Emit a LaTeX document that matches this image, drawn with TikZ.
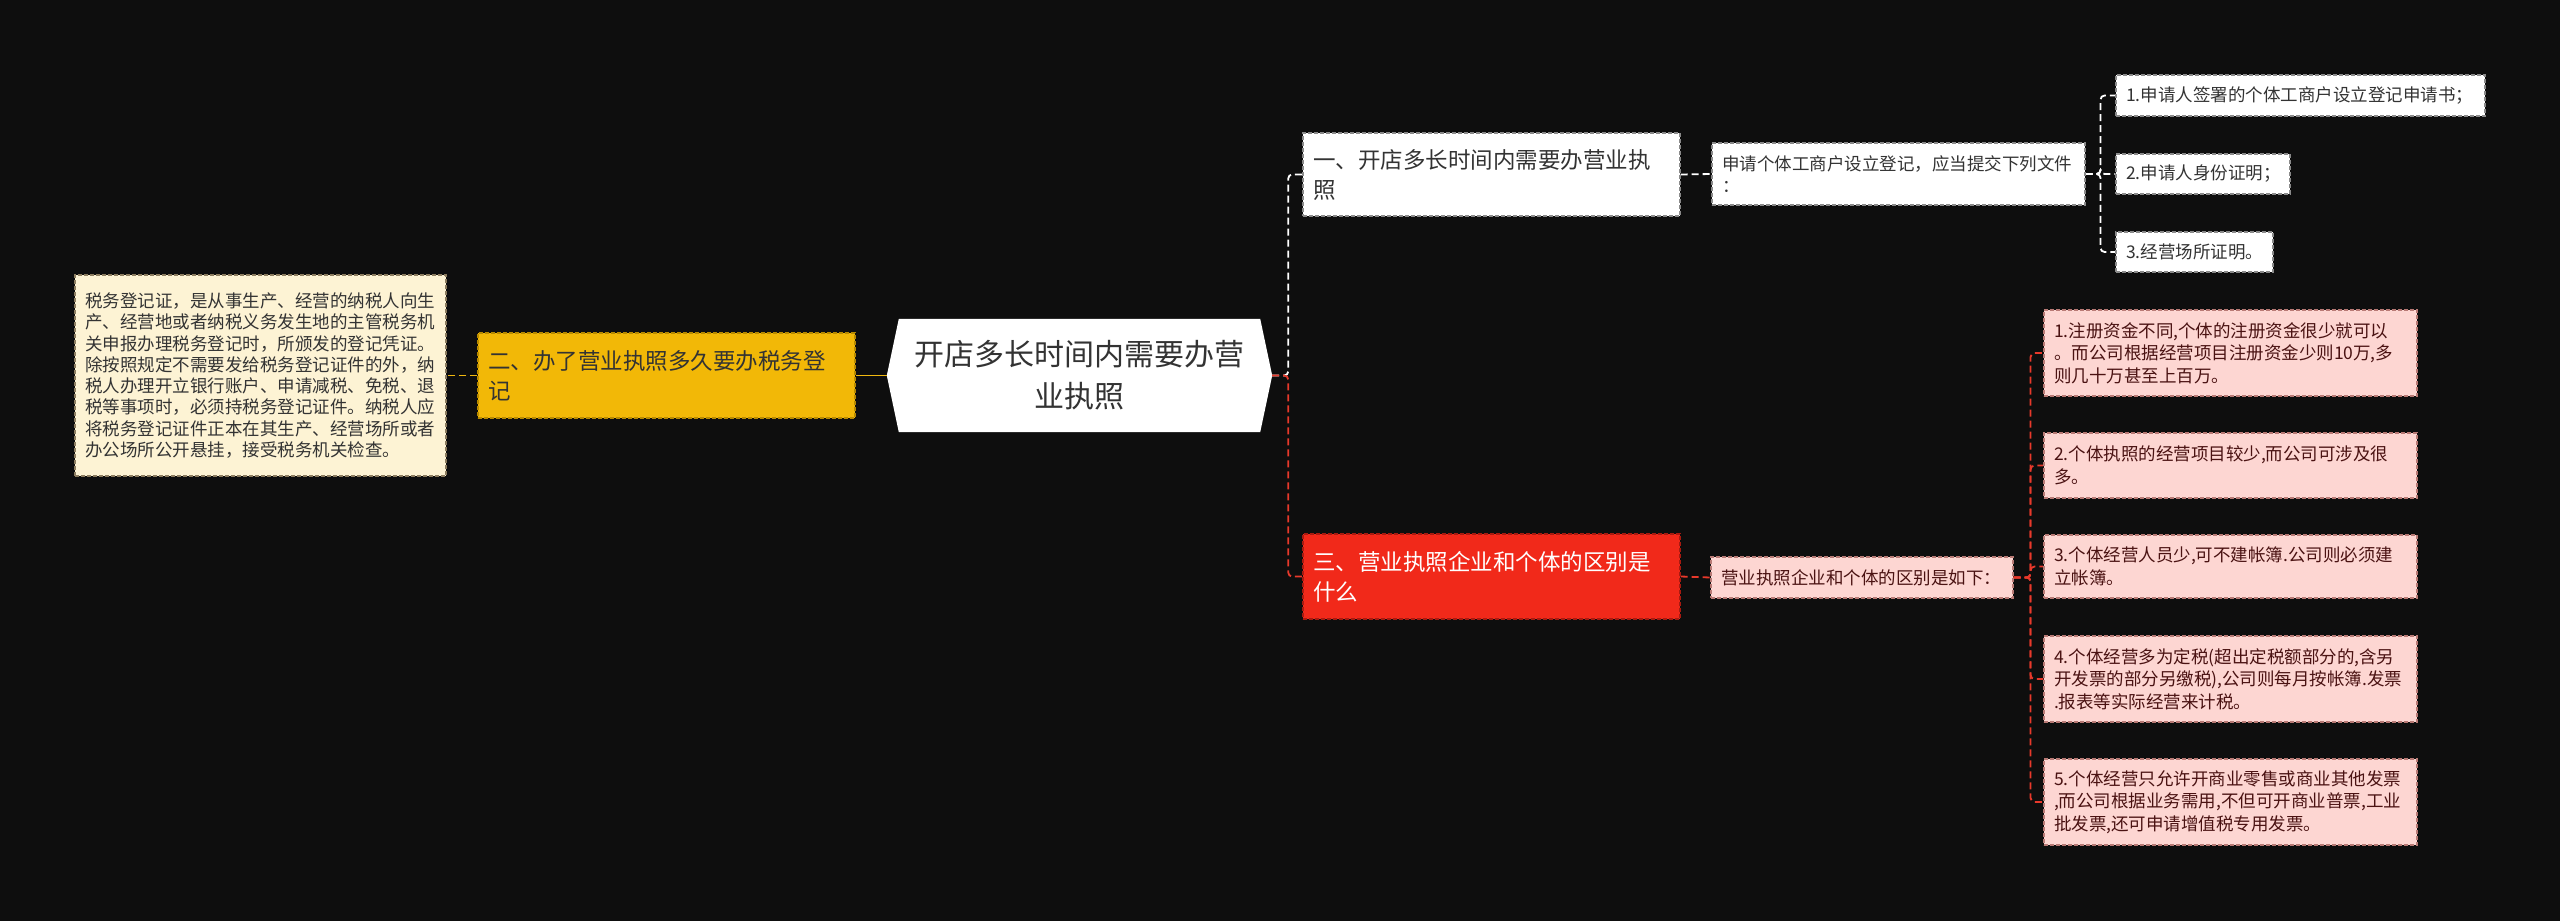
\documentclass[tikz,border=0pt]{standalone}
\usepackage{fontspec}
\setmainfont{Noto Sans CJK SC}
\usetikzlibrary{backgrounds}
\definecolor{bgc}{HTML}{0E0E0E}
\definecolor{yelfill}{HTML}{F2B807}
\definecolor{yelline}{HTML}{F0B810}
\definecolor{yelborder}{HTML}{B88A00}
\definecolor{creamfill}{HTML}{FDF3D4}
\definecolor{creamborder}{HTML}{8C7D60}
\definecolor{redfill}{HTML}{F1291A}
\definecolor{redborder}{HTML}{A81A10}
\definecolor{redline}{HTML}{E8392B}
\definecolor{pinkfill}{HTML}{FDD6D2}
\definecolor{pinkborder}{HTML}{B87A75}
\definecolor{pinktext}{HTML}{4A1212}
\definecolor{grayborder}{HTML}{8A8A8A}
\definecolor{txt}{HTML}{333333}
\tikzset{
  box/.style={draw, dash pattern=on 4pt off 2pt, line width=1.1pt, inner xsep=10pt, inner ysep=0pt, align=left, anchor=center},
  smallfont/.style={font=\fontsize{17.5}{22.5}\selectfont},
  midfont/.style={font=\fontsize{22.5}{30}\selectfont},
  whitebox/.style={box, fill=white, draw=grayborder, text=txt},
  pinkbox/.style={box, fill=pinkfill, draw=pinkborder, text=pinktext, smallfont},
  wconn/.style={draw=white, line width=1.8pt, dash pattern=on 7pt off 4pt, rounded corners=4pt},
  rconn/.style={draw=redline, line width=1.8pt, dash pattern=on 7pt off 4pt, rounded corners=4pt},
}
\begin{document}
\begin{tikzpicture}[x=1pt,y=-1pt]
\useasboundingbox (0,0) rectangle (2560,921);
% root
\node[inner sep=0pt, minimum width=385pt, minimum height=113pt, align=center, text=txt,
      font=\fontsize{30}{42}\selectfont] (root) at (1079.5,375.5) {开店多长时间内需要办营\\业执照};
\begin{pgfonlayer}{background}
\fill[bgc] (0,0) rectangle (2560,921);
\fill[white] (root.west) -- ([xshift=12pt]root.north west) -- ([xshift=-12pt]root.north east)
  -- (root.east) -- ([xshift=-12pt]root.south east) -- ([xshift=12pt]root.south west) -- cycle;
\end{pgfonlayer}
% left branch
\node[box, fill=yelfill, draw=yelborder, text=txt, midfont, text width=357pt, minimum height=85pt] (yel) at (666.5,375.5)
  {二、办了营业执照多久要办税务登\\记};
\node[box, fill=creamfill, draw=creamborder, text=txt, font=\fontsize{17.5}{21.3}\selectfont, text width=351pt, minimum height=201pt] (lt) at (260.5,375.5)
  {税务登记证，是从事生产、经营的纳税人向生\\产、经营地或者纳税义务发生地的主管税务机\\关申报办理税务登记时，所颁发的登记凭证。\\除按照规定不需要发给税务登记证件的外，纳\\税人办理开立银行账户、申请减税、免税、退\\税等事项时，必须持税务登记证件。纳税人应\\将税务登记证件正本在其生产、经营场所或者\\办公场所公开悬挂，接受税务机关检查。};
% upper branch
\node[whitebox, midfont, text width=357pt, minimum height=83pt] (n1) at (1491.5,174.5)
  {一、开店多长时间内需要办营业执\\照};
\node[whitebox, smallfont, text width=353pt, minimum height=62pt] (s1) at (1898.5,174)
  {申请个体工商户设立登记，应当提交下列文件\\：};
\node[whitebox, smallfont, text width=349pt, minimum height=41pt] (i1) at (2300.5,95.5)
  {1.申请人签署的个体工商户设立登记申请书；};
\node[whitebox, smallfont, text width=154pt, minimum height=40pt] (i2) at (2203,174)
  {2.申请人身份证明；};
\node[whitebox, smallfont, text width=137pt, minimum height=40pt] (i3) at (2194.5,252)
  {3.经营场所证明。};
% lower branch
\node[box, fill=redfill, draw=redborder, text=white, midfont, text width=357pt, minimum height=85pt] (n3) at (1491.5,576.5)
  {三、营业执照企业和个体的区别是\\什么};
\node[pinkbox, text width=282pt, minimum height=41pt] (r0) at (1862,577.5)
  {营业执照企业和个体的区别是如下：};
\node[pinkbox, text width=353pt, minimum height=86pt] (p1) at (2230.5,353)
  {1.注册资金不同,个体的注册资金很少就可以\\。而公司根据经营项目注册资金少则10万,多\\则几十万甚至上百万。};
\node[pinkbox, text width=353pt, minimum height=65pt] (p2) at (2230.5,465.5)
  {2.个体执照的经营项目较少,而公司可涉及很\\多。};
\node[pinkbox, text width=353pt, minimum height=63pt] (p3) at (2230.5,566.5)
  {3.个体经营人员少,可不建帐簿.公司则必须建\\立帐簿。};
\node[pinkbox, text width=353pt, minimum height=86pt] (p4) at (2230.5,679)
  {4.个体经营多为定税(超出定税额部分的,含另\\开发票的部分另缴税),公司则每月按帐簿.发票\\.报表等实际经营来计税。};
\node[pinkbox, text width=353pt, minimum height=86pt] (p5) at (2230.5,802)
  {5.个体经营只允许开商业零售或商业其他发票\\,而公司根据业务需用,不但可开商业普票,工业\\批发票,还可申请增值税专用发票。};
% connectors
\begin{pgfonlayer}{background}
\draw[yelline, line width=1.8pt] (root.west) -- (yel.east);
\draw[yelline, line width=1.8pt, dash pattern=on 7pt off 4pt] (yel.west) -- (lt.east);
\draw[wconn] (root.east) -- ++(16,0) |- (n1.west);
\draw[rconn] (root.east) -- ++(16,0) |- (n3.west);
\draw[wconn] (n1.east) -- (s1.west);
\draw[wconn] (s1.east) -- ++(15,0) |- (i1.west);
\draw[wconn] (s1.east) -- ++(15,0) |- (i2.west);
\draw[wconn] (s1.east) -- ++(15,0) |- (i3.west);
\draw[rconn] (n3.east) -- (r0.west);
\draw[rconn] (r0.east) -- ++(17,0) |- (p1.west);
\draw[rconn] (r0.east) -- ++(17,0) |- (p2.west);
\draw[rconn] (r0.east) -- ++(17,0) |- (p3.west);
\draw[rconn] (r0.east) -- ++(17,0) |- (p4.west);
\draw[rconn] (r0.east) -- ++(17,0) |- (p5.west);
\end{pgfonlayer}
\end{tikzpicture}
\end{document}
